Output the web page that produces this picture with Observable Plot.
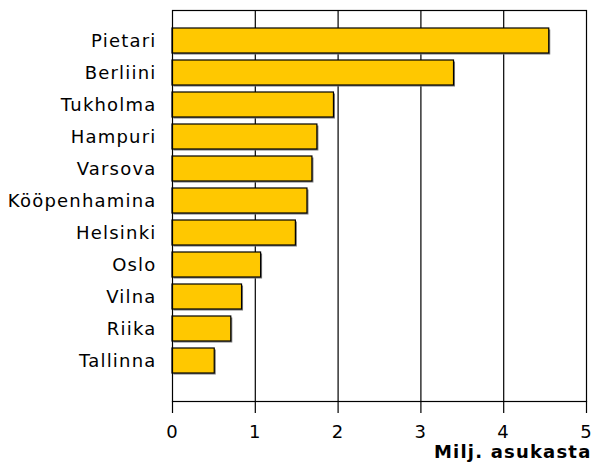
<!DOCTYPE html>
<html><head><meta charset="utf-8">
<script src="https://cdn.jsdelivr.net/npm/d3@7"></script>
<script src="https://cdn.jsdelivr.net/npm/@observablehq/plot@0.6"></script>
<style>
body{margin:0;background:#fff;}
svg{font-family:"DejaVu Sans",Verdana,sans-serif;}
svg text{letter-spacing:1.2px;}
svg text.title-text{letter-spacing:0.9px;}
</style></head>
<body><div id="chart"></div>
<script>
const cities = ["Pietari","Berliini","Tukholma","Hampuri","Varsova","Kööpenhamina","Helsinki","Oslo","Vilna","Riika","Tallinna"];
const population = [4.55, 3.40, 1.95, 1.75, 1.69, 1.63, 1.49, 1.07, 0.84, 0.71, 0.51];
const xTicks = [0,1,2,3,4,5];
const gridValues = [1,2,3,4];
const axisTitle = "Milj. asukasta";

const data = cities.map((c,i)=>({city:c, value:population[i]}));

const chart = Plot.plot({
  width: 593, height: 470,
  marginLeft: 172, marginRight: 7, marginTop: 10, marginBottom: 69,
  style: {fontFamily: '"DejaVu Sans", Verdana, sans-serif', fontSize: "18px", color: "#000", background: "#fff"},
  x: {domain: [0,5], ticks: xTicks},
  y: {domain: cities, padding: 0.23, paddingOuter: 0.63, align: 0.39},
  marks: [
    Plot.ruleX(gridValues, {stroke: "#000", strokeWidth: 1.2}),
    Plot.barX(data, {y: "city", x: "value", fill: "#777", dx: 1.5, dy: 1.5}),
    Plot.barX(data, {y: "city", x: "value", fill: "#ffc800", stroke: "#000", strokeWidth: 1.2}),
    Plot.frame({stroke: "#000", strokeWidth: 1.2}),
    Plot.axisX({ticks: xTicks, tickFormat: "d", tickSize: 12, tickPadding: 12, label: null, fontSize: 18, strokeWidth: 1.2, strokeOpacity: 1}),
    Plot.axisY({tickSize: 0, tickPadding: 16, label: null, fontSize: 18}),
    Plot.text([axisTitle], {frameAnchor: "bottom-right", text: d => d, dx: 5, dy: 56, fontWeight: "bold", fontSize: 18, textAnchor: "end", fill: "#000", className: "title-text"})
  ]
});
document.getElementById("chart").appendChild(chart);
</script></body></html>
